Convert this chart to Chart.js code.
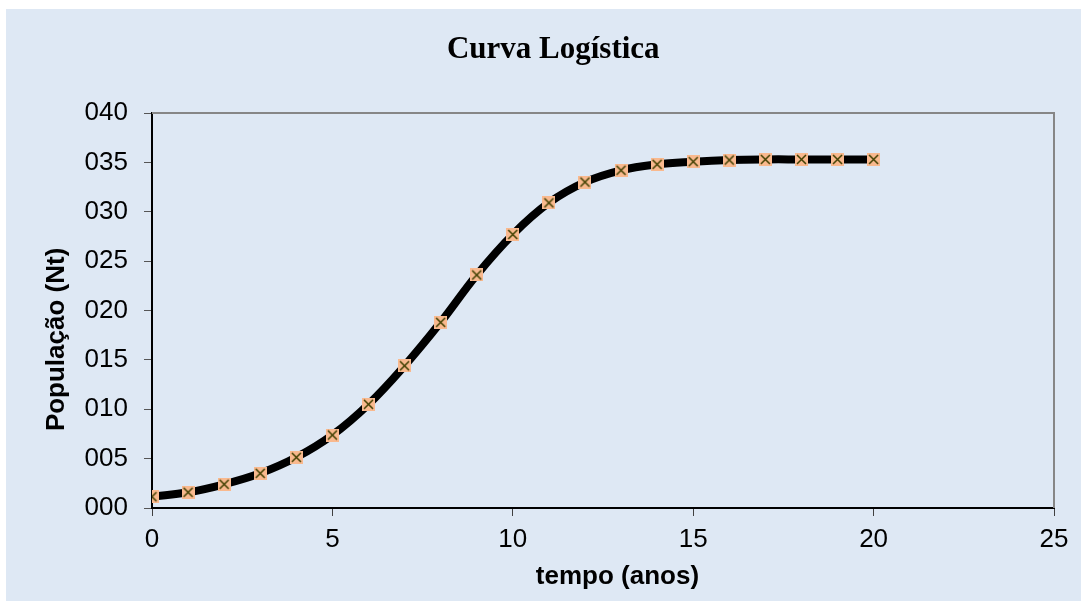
<!DOCTYPE html>
<html>
<head>
<meta charset="utf-8">
<script src="https://cdn.jsdelivr.net/npm/chart.js@4"></script>
<style>
  html, body { margin: 0; padding: 0; background: #fff; }
  #wrap { position: absolute; left: 6px; top: 9px; width: 1075px; height: 592px; background: #dee8f4; }
</style>
</head>
<body>
<div id="wrap"><canvas id="chart"></canvas></div>
<script>
// anos e população
const tempo = [0, 1, 2, 3, 4, 5, 6, 7, 8, 9, 10, 11, 12, 13, 14, 15, 16, 17, 18, 19, 20];
const populacao = [1.14, 1.59, 2.4, 3.51, 5.13, 7.39, 10.5, 14.4, 18.8, 23.6, 27.7, 30.9, 33.0, 34.2, 34.8, 35.07, 35.24, 35.3, 35.3, 35.3, 35.3];
const xTicks = [0, 5, 10, 15, 20, 25];
const yTicks = [0, 5, 10, 15, 20, 25, 30, 35, 40];

// marcador: quadrado laranja com um X
const mark = document.createElement('canvas');
mark.width = 13; mark.height = 13;
const m = mark.getContext('2d');
m.fillStyle = '#f9b98e';
m.fillRect(0, 0, 13, 13);
m.strokeStyle = '#3f3f00';
m.lineWidth = 1.5;
m.beginPath();
m.moveTo(2, 2); m.lineTo(11, 11);
m.moveTo(11, 2); m.lineTo(2, 11);
m.stroke();

const frame = {
  id: 'frame',
  beforeDatasetsDraw(c) {
    const { ctx, chartArea: a } = c;
    ctx.save();
    ctx.strokeStyle = '#868686';
    ctx.lineWidth = 2;
    ctx.beginPath();
    ctx.moveTo(a.left, a.top);
    ctx.lineTo(a.right, a.top);
    ctx.lineTo(a.right, a.bottom);
    ctx.stroke();
    ctx.restore();
  }
};

const tickFont = { family: 'Liberation Sans, Arial', size: 26 };
const titleFont = { family: 'Liberation Sans, Arial', size: 26, weight: 'bold' };

new Chart(document.getElementById('chart'), {
  type: 'line',
  data: {
    datasets: [{
      data: tempo.map((t, i) => ({ x: t, y: populacao[i] })),
      borderColor: '#000',
      borderWidth: 8,
      tension: 0.4,
      pointStyle: mark,
      pointRadius: 6,
      fill: false
    }]
  },
  options: {
    responsive: true,
    maintainAspectRatio: false,
    animation: false,
    layout: { padding: { left: 0, right: 27, top: 0, bottom: 0 } },
    plugins: {
      legend: { display: false },
      tooltip: { enabled: false },
      title: {
        display: true,
        text: '      Curva Logística',
        color: '#000',
        font: { family: 'Liberation Serif, Times New Roman', size: 31, weight: 'bold' },
        padding: { top: 22.4, bottom: 44.4 }
      }
    },
    scales: {
      x: {
        type: 'linear',
        min: 0, max: 25,
        afterBuildTicks: s => { s.ticks = xTicks.map(v => ({ value: v })); },
        afterFit: s => { s.height = 93; },
        border: { color: '#000', width: 2 },
        grid: { drawOnChartArea: false, tickLength: 8, color: '#404040' },
        ticks: { color: '#000', font: tickFont, padding: 8, maxRotation: 0 },
        title: { display: true, text: '    tempo (anos)', color: '#000', font: titleFont, padding: { top: 0, bottom: 9 } }
      },
      y: {
        min: 0, max: 40,
        afterBuildTicks: s => { s.ticks = yTicks.map(v => ({ value: v })); },
        afterFit: s => { s.width = 146; },
        border: { color: '#000', width: 2 },
        grid: { drawOnChartArea: false, tickLength: 8, color: '#555' },
        ticks: { color: '#000', font: tickFont, padding: 16, callback: v => String(v).padStart(3, '0') },
        title: { display: true, text: 'População (Nt)        ', color: '#000', font: titleFont, padding: { top: 35, bottom: 0 } }
      }
    }
  },
  plugins: [frame]
});
</script>
</body>
</html>
